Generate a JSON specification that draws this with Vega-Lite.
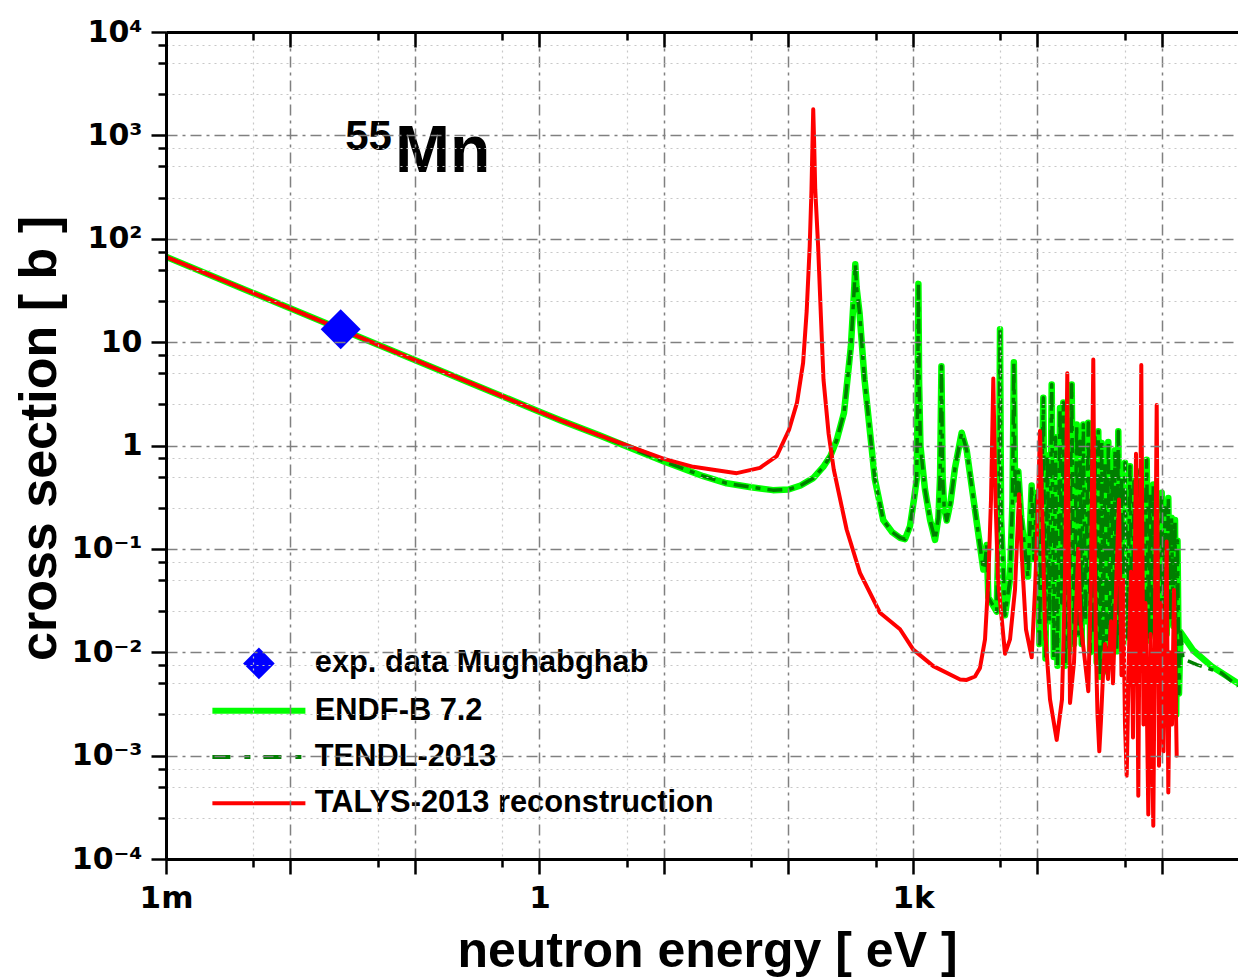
{
  "$schema": "https://vega.github.io/schema/vega-lite/v6.json",
  "width": 1072,
  "height": 827,
  "autosize": {"type": "none"},
  "padding": {"left": 166, "top": 32, "right": 0, "bottom": 119},
  "background": "white",
  "config": {
    "view": {"stroke": null},
    "axis": {"zindex": 1}
  },
  "datasets": {
    "evaluated": [
      {"E": 0.001, "endf": 66.9, "tendl": 66.9},
      {"E": 0.0253, "endf": 13.3, "tendl": 13.3},
      {"E": 0.3, "endf": 3.88, "tendl": 3.88},
      {"E": 1.0, "endf": 2.12, "tendl": 2.12},
      {"E": 1.46, "endf": 1.76, "tendl": 1.76},
      {"E": 3.0, "endf": 1.26, "tendl": 1.26},
      {"E": 10, "endf": 0.70, "tendl": 0.70},
      {"E": 20.7, "endf": 0.505, "tendl": 0.505},
      {"E": 31.9, "endf": 0.431, "tendl": 0.431},
      {"E": 50, "endf": 0.395, "tendl": 0.395},
      {"E": 75, "endf": 0.37, "tendl": 0.37},
      {"E": 100, "endf": 0.375, "tendl": 0.375},
      {"E": 125, "endf": 0.41, "tendl": 0.41},
      {"E": 158, "endf": 0.483, "tendl": 0.483},
      {"E": 190, "endf": 0.62, "tendl": 0.62},
      {"E": 217, "endf": 0.79, "tendl": 0.79},
      {"E": 244, "endf": 1.13, "tendl": 1.13},
      {"E": 279, "endf": 2.07, "tendl": 2.07},
      {"E": 317, "endf": 9.1, "tendl": 9.1},
      {"E": 338, "endf": 34.7, "tendl": 34.7},
      {"E": 344, "endf": 56.6, "tendl": 56.6},
      {"E": 352, "endf": 34, "tendl": 34},
      {"E": 372, "endf": 19.2, "tendl": 19.2},
      {"E": 408, "endf": 4.35, "tendl": 4.35},
      {"E": 464, "endf": 0.98, "tendl": 0.98},
      {"E": 494, "endf": 0.47, "tendl": 0.47},
      {"E": 577, "endf": 0.19, "tendl": 0.19},
      {"E": 680, "endf": 0.145, "tendl": 0.145},
      {"E": 787, "endf": 0.128, "tendl": 0.128},
      {"E": 863, "endf": 0.124, "tendl": 0.124},
      {"E": 946, "endf": 0.166, "tendl": 0.166},
      {"E": 1018, "endf": 0.30, "tendl": 0.30},
      {"E": 1071, "endf": 0.47, "tendl": 0.47},
      {"E": 1092, "endf": 4.0, "tendl": 4.0},
      {"E": 1105, "endf": 36.6, "tendl": 36.6},
      {"E": 1120, "endf": 4.0, "tendl": 4.0},
      {"E": 1148, "endf": 0.98, "tendl": 0.98},
      {"E": 1248, "endf": 0.375, "tendl": 0.375},
      {"E": 1372, "endf": 0.19, "tendl": 0.19},
      {"E": 1503, "endf": 0.122, "tendl": 0.122},
      {"E": 1600, "endf": 0.2, "tendl": 0.2},
      {"E": 1650, "endf": 0.5, "tendl": 0.5},
      {"E": 1692, "endf": 5.85, "tendl": 5.85},
      {"E": 1730, "endf": 0.5, "tendl": 0.5},
      {"E": 1780, "endf": 0.25, "tendl": 0.25},
      {"E": 1866, "endf": 0.188, "tendl": 0.188},
      {"E": 2000, "endf": 0.28, "tendl": 0.28},
      {"E": 2175, "endf": 0.607, "tendl": 0.607},
      {"E": 2460, "endf": 1.33, "tendl": 1.33},
      {"E": 2700, "endf": 0.895, "tendl": 0.895},
      {"E": 3148, "endf": 0.238, "tendl": 0.238},
      {"E": 3673, "endf": 0.0632, "tendl": 0.0632},
      {"E": 3790, "endf": 0.075, "tendl": 0.075},
      {"E": 3909, "endf": 0.109, "tendl": 0.109},
      {"E": 4027, "endf": 0.0339, "tendl": 0.0339},
      {"E": 4699, "endf": 0.0247, "tendl": 0.0247},
      {"E": 4900, "endf": 0.2, "tendl": 0.2},
      {"E": 5000, "endf": 13.3, "tendl": 13.3},
      {"E": 5100, "endf": 0.2, "tendl": 0.2},
      {"E": 5483, "endf": 0.0228, "tendl": 0.0228},
      {"E": 6000, "endf": 0.05, "tendl": 0.05},
      {"E": 6300, "endf": 0.3, "tendl": 0.3},
      {"E": 6457, "endf": 6.4, "tendl": 6.4},
      {"E": 6620, "endf": 0.3, "tendl": 0.3},
      {"E": 7015, "endf": 0.56, "tendl": 0.56},
      {"E": 7400, "endf": 0.2, "tendl": 0.2},
      {"E": 8390, "endf": 0.054, "tendl": 0.054},
      {"E": 8975, "endf": 0.41, "tendl": 0.41},
      {"E": 9350, "endf": 0.08, "tendl": 0.08},
      {"E": 9853, "endf": 0.35, "tendl": 0.35},
      {"E": 10377, "endf": 0.012, "tendl": 0.012},
      {"E": 11133, "endf": 2.9, "tendl": 2.9},
      {"E": 11595, "endf": 0.0087, "tendl": 0.0087},
      {"E": 12032, "endf": 0.8, "tendl": 0.8},
      {"E": 12486, "endf": 0.02, "tendl": 0.02},
      {"E": 13004, "endf": 3.9, "tendl": 3.9},
      {"E": 13520, "endf": 0.009, "tendl": 0.009},
      {"E": 13949, "endf": 1.2, "tendl": 1.2},
      {"E": 14474, "endf": 0.0074, "tendl": 0.0074},
      {"E": 15158, "endf": 2.3, "tendl": 2.3},
      {"E": 15643, "endf": 0.03, "tendl": 0.03},
      {"E": 16112, "endf": 2.6, "tendl": 2.6},
      {"E": 16627, "endf": 0.0074, "tendl": 0.0074},
      {"E": 17254, "endf": 1.5, "tendl": 1.5},
      {"E": 17904, "endf": 0.01, "tendl": 0.01},
      {"E": 18821, "endf": 3.9, "tendl": 3.9},
      {"E": 19640, "endf": 0.012, "tendl": 0.012},
      {"E": 20645, "endf": 1.6, "tendl": 1.6},
      {"E": 21345, "endf": 0.015, "tendl": 0.015},
      {"E": 21945, "endf": 1.1, "tendl": 1.1},
      {"E": 22646, "endf": 0.012, "tendl": 0.012},
      {"E": 23327, "endf": 1.6, "tendl": 1.6},
      {"E": 24296, "endf": 0.02, "tendl": 0.02},
      {"E": 25586, "endf": 1.66, "tendl": 1.66},
      {"E": 26501, "endf": 0.01, "tendl": 0.01},
      {"E": 27398, "endf": 0.9, "tendl": 0.9},
      {"E": 28168, "endf": 0.015, "tendl": 0.015},
      {"E": 28960, "endf": 1.2, "tendl": 1.2},
      {"E": 29886, "endf": 0.008, "tendl": 0.008},
      {"E": 30784, "endf": 1.37, "tendl": 1.37},
      {"E": 31769, "endf": 0.0058, "tendl": 0.0058},
      {"E": 32783, "endf": 1.06, "tendl": 1.06},
      {"E": 33768, "endf": 0.01, "tendl": 0.01},
      {"E": 34846, "endf": 0.7, "tendl": 0.7},
      {"E": 35959, "endf": 0.0065, "tendl": 0.0065},
      {"E": 37040, "endf": 1.08, "tendl": 1.08},
      {"E": 38222, "endf": 0.012, "tendl": 0.012},
      {"E": 39662, "endf": 0.6, "tendl": 0.6},
      {"E": 40778, "endf": 0.01, "tendl": 0.01},
      {"E": 41925, "endf": 0.9, "tendl": 0.9},
      {"E": 43264, "endf": 0.0102, "tendl": 0.0102},
      {"E": 44563, "endf": 1.37, "tendl": 1.37},
      {"E": 45988, "endf": 0.015, "tendl": 0.015},
      {"E": 47282, "endf": 0.5, "tendl": 0.5},
      {"E": 48883, "endf": 0.012, "tendl": 0.012},
      {"E": 50443, "endf": 0.68, "tendl": 0.68},
      {"E": 52828, "endf": 0.014, "tendl": 0.014},
      {"E": 55325, "endf": 0.63, "tendl": 0.63},
      {"E": 57410, "endf": 0.0118, "tendl": 0.0118},
      {"E": 59574, "endf": 0.45, "tendl": 0.45},
      {"E": 61818, "endf": 0.015, "tendl": 0.015},
      {"E": 64507, "endf": 0.56, "tendl": 0.56},
      {"E": 67185, "endf": 0.014, "tendl": 0.014},
      {"E": 69718, "endf": 0.4, "tendl": 0.4},
      {"E": 72341, "endf": 0.016, "tendl": 0.016},
      {"E": 75347, "endf": 0.73, "tendl": 0.73},
      {"E": 77900, "endf": 0.013, "tendl": 0.013},
      {"E": 80092, "endf": 0.35, "tendl": 0.35},
      {"E": 82650, "endf": 0.015, "tendl": 0.015},
      {"E": 85133, "endf": 0.42, "tendl": 0.42},
      {"E": 88667, "endf": 0.014, "tendl": 0.014},
      {"E": 92008, "endf": 0.3, "tendl": 0.3},
      {"E": 96365, "endf": 0.0129, "tendl": 0.0129},
      {"E": 99442, "endf": 0.35, "tendl": 0.35},
      {"E": 102430, "endf": 0.016, "tendl": 0.016},
      {"E": 105700, "endf": 0.25, "tendl": 0.25},
      {"E": 109080, "endf": 0.015, "tendl": 0.015},
      {"E": 112360, "endf": 0.31, "tendl": 0.31},
      {"E": 115960, "endf": 0.02, "tendl": 0.02},
      {"E": 119210, "endf": 0.2, "tendl": 0.2},
      {"E": 123240, "endf": 0.018, "tendl": 0.018},
      {"E": 127180, "endf": 0.19, "tendl": 0.19},
      {"E": 130030, "endf": 0.0025, "tendl": 0.0025},
      {"E": 133200, "endf": 0.12, "tendl": 0.12},
      {"E": 136940, "endf": 0.004, "tendl": 0.004},
      {"E": 140790, "endf": 0.0157, "tendl": 0.0157},
      {"E": 147500, "tendl": 0.0086},
      {"E": 178400, "endf": 0.0104},
      {"E": 190000, "tendl": 0.0076},
      {"E": 250000, "tendl": 0.0068},
      {"E": 250700, "endf": 0.0073},
      {"E": 300000, "tendl": 0.0063},
      {"E": 407800, "endf": 0.005, "tendl": 0.0047}
    ],
    "talys": [
      {"E": 0.001, "xs": 66.9},
      {"E": 0.0253, "xs": 13.3},
      {"E": 0.3, "xs": 3.88},
      {"E": 1.0, "xs": 2.12},
      {"E": 1.46, "xs": 1.76},
      {"E": 3.0, "xs": 1.26},
      {"E": 10, "xs": 0.743},
      {"E": 17.2, "xs": 0.622},
      {"E": 38.4, "xs": 0.54},
      {"E": 59, "xs": 0.608},
      {"E": 80.4, "xs": 0.789},
      {"E": 101, "xs": 1.42},
      {"E": 117, "xs": 2.6},
      {"E": 131, "xs": 6.3},
      {"E": 140, "xs": 20},
      {"E": 148, "xs": 84.6},
      {"E": 153, "xs": 300},
      {"E": 156, "xs": 900},
      {"E": 158, "xs": 1786},
      {"E": 160.5, "xs": 900},
      {"E": 164, "xs": 300},
      {"E": 173, "xs": 84},
      {"E": 182, "xs": 18},
      {"E": 191, "xs": 4.35},
      {"E": 210, "xs": 1.3},
      {"E": 231, "xs": 0.586},
      {"E": 293, "xs": 0.154},
      {"E": 375, "xs": 0.0587},
      {"E": 543, "xs": 0.0241},
      {"E": 787, "xs": 0.0167},
      {"E": 1005, "xs": 0.0106},
      {"E": 1456, "xs": 0.00734},
      {"E": 2388, "xs": 0.00546},
      {"E": 2700, "xs": 0.0054},
      {"E": 3148, "xs": 0.00583},
      {"E": 3452, "xs": 0.00706},
      {"E": 3788, "xs": 0.0133},
      {"E": 4026, "xs": 0.0498},
      {"E": 4232, "xs": 0.30},
      {"E": 4416, "xs": 4.45},
      {"E": 4599, "xs": 0.30},
      {"E": 4817, "xs": 0.0506},
      {"E": 5483, "xs": 0.00966},
      {"E": 6014, "xs": 0.0133},
      {"E": 6597, "xs": 0.0404},
      {"E": 7102, "xs": 0.338},
      {"E": 7507, "xs": 0.0789},
      {"E": 8085, "xs": 0.0166},
      {"E": 8982, "xs": 0.00893},
      {"E": 9548, "xs": 0.04},
      {"E": 10000, "xs": 0.192},
      {"E": 10470, "xs": 1.38},
      {"E": 10970, "xs": 0.192},
      {"E": 11490, "xs": 0.0166},
      {"E": 12600, "xs": 0.0035},
      {"E": 14260, "xs": 0.00142},
      {"E": 15730, "xs": 0.0035},
      {"E": 16630, "xs": 0.0506},
      {"E": 17350, "xs": 5.0},
      {"E": 17900, "xs": 0.0506},
      {"E": 18240, "xs": 0.00323},
      {"E": 19640, "xs": 0.008},
      {"E": 21270, "xs": 0.1},
      {"E": 22150, "xs": 0.02},
      {"E": 23330, "xs": 0.0114},
      {"E": 25590, "xs": 0.0042},
      {"E": 26900, "xs": 0.05},
      {"E": 28060, "xs": 6.8},
      {"E": 28700, "xs": 0.15},
      {"E": 29500, "xs": 0.01},
      {"E": 30330, "xs": 0.0025},
      {"E": 31360, "xs": 0.0011},
      {"E": 32360, "xs": 0.0022},
      {"E": 33580, "xs": 0.006},
      {"E": 34850, "xs": 0.012},
      {"E": 35830, "xs": 0.008},
      {"E": 36830, "xs": 0.0055},
      {"E": 38940, "xs": 0.02},
      {"E": 40400, "xs": 0.005},
      {"E": 42710, "xs": 0.04},
      {"E": 45150, "xs": 0.3},
      {"E": 47280, "xs": 0.006},
      {"E": 48610, "xs": 0.05},
      {"E": 50440, "xs": 0.002},
      {"E": 52050, "xs": 0.00064},
      {"E": 54310, "xs": 0.01},
      {"E": 56360, "xs": 0.06},
      {"E": 58480, "xs": 0.0015},
      {"E": 61820, "xs": 0.83},
      {"E": 64510, "xs": 0.00041},
      {"E": 68190, "xs": 6.0},
      {"E": 71020, "xs": 0.002},
      {"E": 73690, "xs": 0.03},
      {"E": 77610, "xs": 0.00027},
      {"E": 80840, "xs": 0.015},
      {"E": 85130, "xs": 0.00021},
      {"E": 90660, "xs": 2.47},
      {"E": 94600, "xs": 0.0008},
      {"E": 98160, "xs": 0.03},
      {"E": 102810, "xs": 0.0011},
      {"E": 109080, "xs": 0.118},
      {"E": 112360, "xs": 0.00044},
      {"E": 115960, "xs": 0.01},
      {"E": 120320, "xs": 0.002},
      {"E": 124880, "xs": 0.04},
      {"E": 131240, "xs": 0.001}
    ],
    "mughabghab": [
      {"E": 0.0253, "xs": 13.3}
    ]
  },
  "resolve": {"axis": {"x": "independent", "y": "independent"}},
  "layer": [
    {
      "data": {"values": [{}]},
      "mark": {"type": "rect", "fill": "white"},
      "encoding": {
        "x": {"datum": 0.001, "type": "quantitative", "scale": {"type": "log", "domain": [0.001, 407800], "nice": false}, "axis": null},
        "x2": {"datum": 44.8},
        "y": {"datum": 0.0001, "type": "quantitative", "scale": {"type": "log", "domain": [0.0001, 10000], "nice": false}, "axis": null},
        "y2": {"datum": 0.0269}
      }
    },
    {
      "data": {"values": [{}]},
      "mark": {"type": "rect", "fill": "white"},
      "encoding": {
        "x": {"datum": 0.0196, "type": "quantitative", "scale": {"type": "log", "domain": [0.001, 407800], "nice": false}, "axis": null},
        "x2": {"datum": 0.5},
        "y": {"datum": 237, "type": "quantitative", "scale": {"type": "log", "domain": [0.0001, 10000], "nice": false}, "axis": null},
        "y2": {"datum": 2870}
      }
    },
    {
      "data": {"name": "evaluated"},
      "transform": [{"filter": "isValid(datum.endf)"}],
      "mark": {"type": "line", "strokeWidth": 6.5, "strokeJoin": "round", "strokeCap": "round", "clip": true},
      "encoding": {
        "x": {
          "field": "E", "type": "quantitative",
          "scale": {"type": "log", "domain": [0.001, 407800], "nice": false},
          "axis": {
            "orient": "bottom",
            "values": [0.001, 0.005, 0.01, 0.05, 0.1, 0.5, 1, 5, 10, 50, 100, 500, 1000, 5000, 10000, 50000, 100000],
            "labelExpr": "datum.value == 0.001 ? '1m' : datum.value == 1 ? '1' : datum.value == 1000 ? '1k' : ''",
            "grid": true,
            "gridColor": {"condition": {"test": "abs(log(datum.value)/LN10 - round(log(datum.value)/LN10)) < 0.001", "value": "#808080"}, "value": "#c8c8c8"},
            "gridDash": {"condition": {"test": "abs(log(datum.value)/LN10 - round(log(datum.value)/LN10)) < 0.001", "value": [11, 5, 3, 5]}, "value": [2, 4]},
            "gridWidth": {"condition": {"test": "abs(log(datum.value)/LN10 - round(log(datum.value)/LN10)) < 0.001", "value": 1.5}, "value": 1.2},
            "tickSize": {"condition": {"test": "abs(log(datum.value)/LN10 - round(log(datum.value)/LN10)) < 0.001", "value": 15}, "value": 8},
            "tickWidth": 2.5, "tickColor": "#000000",
            "domainWidth": 3, "domainColor": "#000000",
            "labelFont": "DejaVu Sans", "labelFontWeight": "bold", "labelFontSize": 31, "labelColor": "#000000",
            "labelPadding": 9, "labelOverlap": false, "labelFlush": false, "labelBound": false,
            "title": "neutron energy [ eV ]",
            "titleFont": "Liberation Sans", "titleFontWeight": "bold", "titleFontSize": 50, "titleColor": "#000000",
            "titleX": 541, "titleY": 107, "titleAlign": "center", "titleBaseline": "alphabetic",
            "zindex": 1
          }
        },
        "y": {
          "field": "endf", "type": "quantitative",
          "scale": {"type": "log", "domain": [0.0001, 10000], "nice": false},
          "axis": {
            "orient": "left",
            "values": [0.0001, 0.00025, 0.0005, 0.00075, 0.001, 0.0025, 0.005, 0.0075, 0.01, 0.025, 0.05, 0.075, 0.1, 0.25, 0.5, 0.75, 1, 2.5, 5, 7.5, 10, 25, 50, 75, 100, 250, 500, 750, 1000, 2500, 5000, 7500, 10000],
            "labelExpr": "datum.value == 10000 ? '10⁴' : datum.value == 1000 ? '10³' : datum.value == 100 ? '10²' : datum.value == 10 ? '10' : datum.value == 1 ? '1' : datum.value == 0.1 ? '10⁻¹' : datum.value == 0.01 ? '10⁻²' : datum.value == 0.001 ? '10⁻³' : datum.value == 0.0001 ? '10⁻⁴' : ''",
            "grid": true,
            "gridColor": {"condition": {"test": "abs(log(datum.value)/LN10 - round(log(datum.value)/LN10)) < 0.001", "value": "#808080"}, "value": "#c8c8c8"},
            "gridDash": {"condition": {"test": "abs(log(datum.value)/LN10 - round(log(datum.value)/LN10)) < 0.001", "value": [11, 5, 3, 5]}, "value": [2, 4]},
            "gridWidth": {"condition": {"test": "abs(log(datum.value)/LN10 - round(log(datum.value)/LN10)) < 0.001", "value": 1.5}, "value": 1.2},
            "tickSize": {"condition": {"test": "abs(log(datum.value)/LN10 - round(log(datum.value)/LN10)) < 0.001", "value": 15}, "value": 8},
            "tickWidth": 2.5, "tickColor": "#000000",
            "domainWidth": 3, "domainColor": "#000000",
            "labelFont": "DejaVu Sans", "labelFontWeight": "bold", "labelFontSize": 30, "labelColor": "#000000",
            "labelPadding": 9, "labelOverlap": false, "labelFlush": false, "labelBound": false,
            "title": "cross section [ b ]",
            "titleFont": "Liberation Sans", "titleFontWeight": "bold", "titleFontSize": 52, "titleColor": "#000000",
            "titleAngle": 270, "titleX": -111, "titleY": 406, "titleAlign": "center", "titleBaseline": "alphabetic",
            "zindex": 1
          }
        },
        "color": {
          "datum": "ENDF-B 7.2", "type": "nominal",
          "scale": {
            "domain": ["exp. data Mughabghab", "ENDF-B 7.2", "TENDL-2013", "TALYS-2013 reconstruction"],
            "range": ["#0000ff", "#00ff00", "#007f00", "#ff0000"]
          },
          "legend": {
            "title": null, "orient": "none", "legendX": 49, "legendY": 616, "direction": "vertical",
            "padding": 0, "offset": 0, "rowPadding": 14.3,
            "symbolSize": 1024, "symbolStrokeWidth": 4, "symbolOffset": 28.5, "labelOffset": 40.5,
            "labelFont": "Liberation Sans", "labelFontWeight": "bold", "labelFontSize": 30.8, "labelColor": "#000000", "labelLimit": 700,
            "encode": {
              "symbols": {
                "update": {
                  "shape": {"signal": "datum.value === 'exp. data Mughabghab' ? 'diamond' : 'stroke'"},
                  "size": {"signal": "datum.value === 'exp. data Mughabghab' ? 1000 : 8650"},
                  "fill": {"signal": "datum.value === 'exp. data Mughabghab' ? '#0000ff' : 'transparent'"},
                  "stroke": {"signal": "datum.value === 'ENDF-B 7.2' ? '#00ff00' : datum.value === 'TENDL-2013' ? '#007f00' : datum.value === 'TALYS-2013 reconstruction' ? '#ff0000' : 'transparent'"},
                  "strokeWidth": {"signal": "datum.value === 'ENDF-B 7.2' ? 6 : datum.value === 'exp. data Mughabghab' ? 0 : 4"},
                  "strokeDash": {"signal": "datum.value === 'TENDL-2013' ? [18, 14, 6, 13] : [1, 0]"},
                  "opacity": {"value": 1}
                }
              }
            }
          }
        }
      }
    },
    {
      "data": {"name": "evaluated"},
      "transform": [{"filter": "isValid(datum.tendl)"}],
      "mark": {"type": "line", "color": "#007f00", "strokeWidth": 3.5, "strokeDash": [15, 7, 5, 7], "strokeJoin": "round", "clip": true},
      "encoding": {
        "x": {
          "field": "E", "type": "quantitative",
          "scale": {"type": "log", "domain": [0.001, 407800], "nice": false},
          "axis": {
            "orient": "top",
            "values": [0.001, 0.005, 0.01, 0.05, 0.1, 0.5, 1, 5, 10, 50, 100, 500, 1000, 5000, 10000, 50000, 100000],
            "labels": false, "grid": false, "title": null,
            "tickSize": {"condition": {"test": "abs(log(datum.value)/LN10 - round(log(datum.value)/LN10)) < 0.001", "value": -15}, "value": -8},
            "tickWidth": 2.5, "tickColor": "#000000",
            "domainWidth": 3, "domainColor": "#000000",
            "zindex": 1
          }
        },
        "y": {"field": "tendl", "type": "quantitative", "scale": {"type": "log", "domain": [0.0001, 10000], "nice": false}, "axis": null}
      }
    },
    {
      "data": {"name": "talys"},
      "mark": {"type": "line", "color": "#ff0000", "strokeWidth": 4, "strokeJoin": "round", "strokeCap": "round", "clip": true},
      "encoding": {
        "x": {"field": "E", "type": "quantitative", "scale": {"type": "log", "domain": [0.001, 407800], "nice": false}, "axis": null},
        "y": {"field": "xs", "type": "quantitative", "scale": {"type": "log", "domain": [0.0001, 10000], "nice": false}, "axis": null}
      }
    },
    {
      "data": {"name": "mughabghab"},
      "mark": {"type": "point", "shape": "diamond", "filled": true, "color": "#0000ff", "size": 1600, "opacity": 1},
      "encoding": {
        "x": {"field": "E", "type": "quantitative", "scale": {"type": "log", "domain": [0.001, 407800], "nice": false}, "axis": null},
        "y": {"field": "xs", "type": "quantitative", "scale": {"type": "log", "domain": [0.0001, 10000], "nice": false}, "axis": null}
      }
    },
    {
      "data": {"values": [{}]},
      "mark": {"type": "text", "text": "55", "font": "Liberation Sans", "fontWeight": "bold", "fontSize": 42, "align": "right", "baseline": "alphabetic", "color": "#000000"},
      "encoding": {
        "x": {"datum": 0.0653, "type": "quantitative", "scale": {"type": "log", "domain": [0.001, 407800], "nice": false}, "axis": null},
        "y": {"datum": 723, "type": "quantitative", "scale": {"type": "log", "domain": [0.0001, 10000], "nice": false}, "axis": null}
      }
    },
    {
      "data": {"values": [{}]},
      "mark": {"type": "text", "text": "Mn", "font": "Liberation Sans", "fontWeight": "bold", "fontSize": 66, "align": "left", "baseline": "alphabetic", "color": "#000000"},
      "encoding": {
        "x": {"datum": 0.069, "type": "quantitative", "scale": {"type": "log", "domain": [0.001, 407800], "nice": false}, "axis": null},
        "y": {"datum": 446.7, "type": "quantitative", "scale": {"type": "log", "domain": [0.0001, 10000], "nice": false}, "axis": null}
      }
    }
  ]
}
